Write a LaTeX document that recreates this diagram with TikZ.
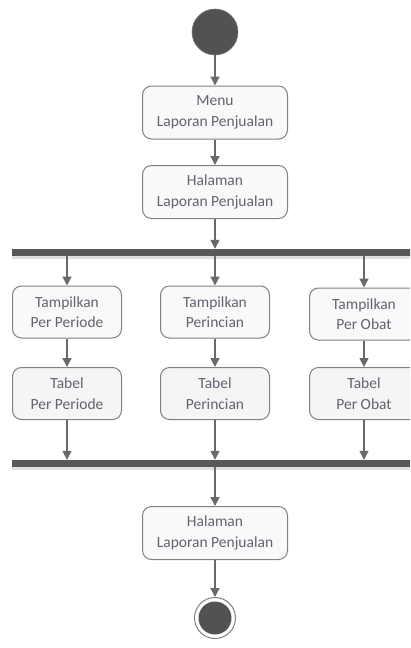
\documentclass[tikz,border=0pt]{standalone}
\usepackage{fontspec}
\setmainfont{Carlito}
\usetikzlibrary{arrows.meta}
\definecolor{linegray}{RGB}{105,105,105}
\definecolor{boxline}{RGB}{128,128,128}
\definecolor{boxfill}{RGB}{249,249,249}
\definecolor{txt}{RGB}{96,100,112}
\definecolor{bargray}{RGB}{88,88,88}
\definecolor{dotgray}{RGB}{82,82,82}
\tikzset{
  act/.style={draw=boxline, line width=1pt, fill=boxfill, rounded corners=9pt,
    minimum width=145pt, minimum height=53pt, align=center, text=txt,
    font=\fontsize{15.5}{20.5}\selectfont, inner sep=0pt},
  smallact/.style={act, minimum width=109pt, minimum height=52pt},
  syncbar/.style={fill=bargray, draw=none, rectangle, inner sep=0pt,
    minimum height=7pt, minimum width=420pt, anchor=west},
  flow/.style={draw=linegray, line width=1.4pt,
    -{Triangle[length=9pt, width=9pt, fill=linegray]}},
  startdot/.style={circle, fill=dotgray, draw=dotgray!80!white, line width=0.6pt,
    minimum size=46pt, inner sep=0pt},
  endring/.style={circle, fill=white, draw=boxline, line width=1pt,
    minimum size=41pt, inner sep=0pt},
  enddot/.style={circle, fill=dotgray, minimum size=33pt, inner sep=0pt},
}
\begin{document}
\begin{tikzpicture}[x=1pt, y=-1pt]
  \clip (0,0) rectangle (410,648);
  \fill[white] (0,0) rectangle (410,648);

  % initial node
  \node[startdot] (start) at (215,32) {};

  % top sequence
  \node[act] (menu) at (215,112.5) {Menu\\Laporan Penjualan};
  \node[act] (hal1) at (215,192) {Halaman\\Laporan Penjualan};

  % fork bar with soft shadow
  \fill[black!12] (12,256) rectangle (420,259);
  \node[syncbar] (fork) at (12,252.5) {};

  % three parallel branches
  \node[smallact] (tp1) at (67,312)   {Tampilkan\\Per Periode};
  \node[smallact] (tp2) at (215,312)  {Tampilkan\\Perincian};
  \node[smallact] (tp3) at (364,314)  {Tampilkan\\Per Obat};
  \node[smallact, fill=black!4] (tb1) at (67,393.5)  {Tabel\\Per Periode};
  \node[smallact, fill=black!4] (tb2) at (215,393.5) {Tabel\\Perincian};
  \node[smallact, fill=black!4] (tb3) at (364,393.5) {Tabel\\Per Obat};

  % join bar with soft shadow
  \fill[black!12] (12,467) rectangle (420,470);
  \node[syncbar] (join) at (12,463.5) {};

  % closing sequence
  \node[act] (hal2) at (215,533) {Halaman\\Laporan Penjualan};
  \node[endring] (finish) at (215,618) {};
  \node[enddot] (finishdot) at (finish.center) {};

  % connectors
  \draw[flow] (start) -- (menu);
  \draw[flow] (menu) -- (hal1);
  \draw[flow] (hal1) -- (hal1 |- fork.north);
  \foreach \t/\b in {tp1/tb1, tp2/tb2, tp3/tb3} {
    \draw[flow] (\t |- fork.south) -- (\t.north);
    \draw[flow] (\t) -- (\b);
    \draw[flow] (\b) -- (\b |- join.north);
  }
  \draw[flow] (hal2 |- join.south) -- (hal2);
  \draw[flow] (hal2) -- (finish);
\end{tikzpicture}
\end{document}
